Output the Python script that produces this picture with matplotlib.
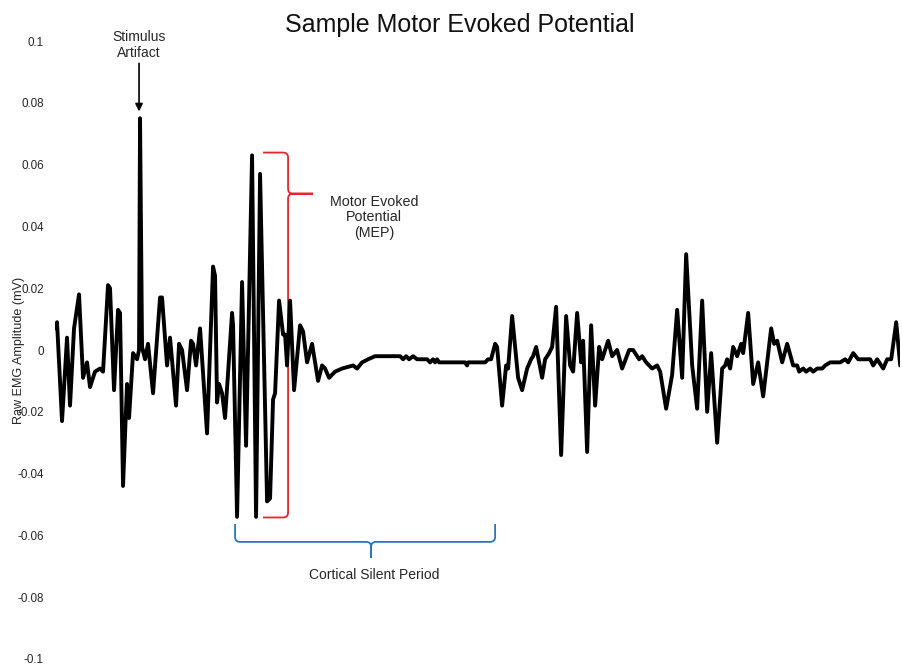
import matplotlib
matplotlib.use("Agg")
import matplotlib.pyplot as plt
from matplotlib.path import Path
from matplotlib.patches import PathPatch
from matplotlib.ticker import FuncFormatter

plt.rcParams['font.family'] = ['Liberation Sans', 'DejaVu Sans']

# EMG trace (time in samples, amplitude in mV)
t = [0, 2, 7, 12, 15, 19, 24, 28, 32, 35, 40, 45, 48, 53, 55, 59, 63, 65, 68, 72,
     74, 78, 82, 84, 85, 87, 90, 93, 98, 105, 107, 112, 115, 121, 124, 127, 132, 136,
     138, 141, 145, 152, 158, 160, 162, 164, 167, 170, 177, 178, 182, 187, 191, 197,
     201, 205, 212, 215, 218, 220, 224, 228, 230, 232, 235, 239, 245, 248, 252, 257,
     263, 267, 270, 274, 280, 287, 298, 302, 307, 313, 320, 345, 348, 351, 354, 358,
     362, 372, 375, 378, 380, 382, 384, 410, 412, 413, 430, 433, 436, 440, 442, 447,
     451, 453, 457, 463, 467, 472, 476, 478, 481, 487, 490, 494, 497, 501, 506, 511,
     515, 518, 522, 526, 528, 532, 536, 540, 544, 547, 553, 557, 562, 567, 574, 578,
     582, 584, 587, 591, 597, 602, 605, 611, 617, 622, 627, 631, 637, 642, 647, 652,
     656, 662, 667, 670, 672, 675, 678, 682, 686, 688, 693, 698, 703, 708, 716, 719,
     722, 727, 732, 738, 742, 744, 748, 751, 755, 758, 762, 767, 770, 775, 778, 782,
     785, 790, 793, 798, 803, 815, 818, 822, 828, 832, 836, 841, 845]
amp = [0.007, 0.009, -0.023, 0.004, -0.018, 0.007, 0.018, -0.009, -0.004, -0.012,
       -0.007, -0.006, -0.007, 0.021, 0.020, -0.013, 0.013, 0.012, -0.044, -0.011,
       -0.022, -0.001, -0.003, 0.000, 0.075, 0.001, -0.003, 0.002, -0.014, 0.017,
       0.017, -0.005, 0.004, -0.018, 0.002, 0.000, -0.013, 0.003, 0.002, -0.005,
       0.007, -0.027, 0.027, 0.024, -0.017, -0.011, -0.014, -0.022, 0.012, 0.008,
       -0.054, 0.022, -0.031, 0.063, -0.054, 0.057, -0.049, -0.048, -0.016, -0.014,
       0.016, 0.005, 0.005, -0.005, 0.016, -0.013, 0.008, 0.006, -0.004, 0.002,
       -0.010, -0.005, -0.006, -0.009, -0.007, -0.006, -0.005, -0.006, -0.004, -0.003,
       -0.002, -0.002, -0.003, -0.002, -0.003, -0.002, -0.003, -0.003, -0.004, -0.003,
       -0.004, -0.003, -0.004, -0.004, -0.005, -0.004, -0.004, -0.003, -0.003, 0.002,
       0.001, -0.018, -0.005, -0.006, 0.011, -0.009, -0.013, -0.006, -0.003, -0.002,
       0.001, -0.009, -0.003, -0.001, 0.001, 0.014, -0.034, 0.011, -0.005, -0.007,
       0.012, -0.004, 0.003, -0.033, 0.008, -0.018, 0.001, -0.003, 0.003, -0.002,
       0.000, -0.006, 0.000, 0.000, -0.002, -0.003, -0.002, -0.004, -0.006, -0.005,
       -0.007, -0.019, -0.008, 0.013, -0.009, 0.031, -0.005, -0.019, 0.016, -0.020,
       -0.001, -0.030, -0.006, -0.005, -0.003, -0.006, 0.001, -0.002, 0.002, -0.001,
       0.012, -0.011, -0.004, -0.015, 0.007, 0.002, 0.003, -0.004, 0.002, -0.005,
       -0.005, -0.007, -0.006, -0.007, -0.006, -0.007, -0.006, -0.006, -0.005, -0.004,
       -0.004, -0.004, -0.004, -0.003, -0.004, -0.001, -0.003, -0.003, -0.005, -0.003,
       -0.006, -0.003, -0.003, 0.009, -0.005]

yticks = [0.1, 0.08, 0.06, 0.04, 0.02, 0, -0.02, -0.04, -0.06, -0.08, -0.1]

RED = '#e3262d'
BLUE = '#2e75b6'
TXT = '#262626'

fig = plt.figure(figsize=(9.02, 6.67), dpi=100)
ax = fig.add_axes([0.061, 0.012, 0.937, 0.9265])

ax.plot(t, amp, color='black', lw=2.8, solid_joinstyle='round',
        solid_capstyle='round')

ax.set_xlim(0, 845)
ax.set_ylim(-0.1, 0.1)
ax.set_xticks([])
ax.set_yticks(yticks)
ax.yaxis.set_major_formatter(FuncFormatter(lambda v, p: '%g' % round(v, 3)))
ax.tick_params(axis='y', length=0, pad=8, labelsize=8.4, labelcolor=TXT)
for s in ax.spines.values():
    s.set_visible(False)
ax.set_ylabel('Raw EMG Amplitude (mV)', fontsize=9.1, color=TXT)
ax.yaxis.set_label_coords(-0.036, 0.5)

fig.text(0.51, 0.962, 'Sample Motor Evoked Potential', ha='center', va='center',
         fontsize=18, color='#111111')

# stimulus artifact label + arrow
ax.text(84, 0.0988, 'Stimulus\nArtifact', ha='center', va='center', fontsize=10,
        linespacing=1.15, color=TXT)
ax.annotate('', xy=(84, 0.0772), xytext=(84, 0.0928),
            arrowprops=dict(arrowstyle='-|>', color='black', lw=1.2,
                            mutation_scale=11, shrinkA=0, shrinkB=0))

px_y = 0.2 / 618  # one pixel in amplitude units
r = 5

# red brace, right facing
xe, xs, xt = 208, 233, 258
yt, ym, yb = 0.0639, 0.0506, -0.0542
ry = r * px_y
verts = [(xe, yt), (xs - r, yt), (xs, yt), (xs, yt - ry), (xs, ym + ry),
         (xs, ym), (xs + r, ym), (xt, ym), (xs + r, ym), (xs, ym), (xs, ym - ry),
         (xs, yb + ry), (xs, yb), (xs - r, yb), (xe, yb)]
codes = [Path.MOVETO, Path.LINETO, Path.CURVE3, Path.CURVE3, Path.LINETO,
         Path.CURVE3, Path.CURVE3, Path.LINETO, Path.LINETO, Path.CURVE3, Path.CURVE3,
         Path.LINETO, Path.CURVE3, Path.CURVE3, Path.LINETO]
ax.add_patch(PathPatch(Path(verts, codes), fill=False, edgecolor=RED, lw=1.3))
ax.text(319, 0.0429, 'Motor Evoked\nPotential\n(MEP)', ha='center', va='center',
        fontsize=10.3, linespacing=1.15, color=TXT)

# blue brace, downward
xl, xc, xr = 180, 316, 440
ye, yh, ytip = -0.0563, -0.0621, -0.0673
verts = [(xl, ye), (xl, yh + ry), (xl, yh), (xl + r, yh), (xc - r, yh), (xc, yh),
         (xc, yh - ry), (xc, ytip), (xc, yh - ry), (xc, yh), (xc + r, yh),
         (xr - r, yh), (xr, yh), (xr, yh + ry), (xr, ye)]
ax.add_patch(PathPatch(Path(verts, codes), fill=False, edgecolor=BLUE, lw=1.3))
ax.text(319, -0.0727, 'Cortical Silent Period', ha='center', va='center',
        fontsize=10, color=TXT)

fig.savefig('out.png', dpi=100)
